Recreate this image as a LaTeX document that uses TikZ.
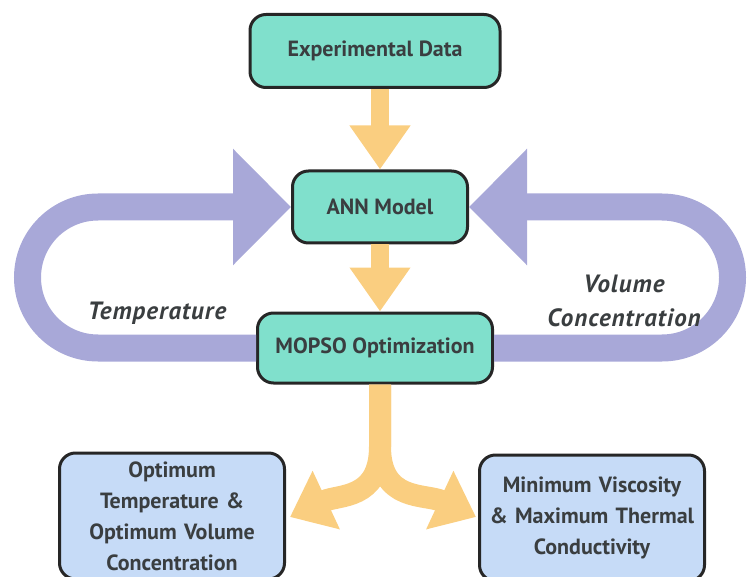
\documentclass[tikz,border=0pt]{standalone}
\usepackage{fontspec}
\setmainfont{PT Sans}
\newfontfamily\tagfont[LetterSpace=4]{PT Sans}
\usetikzlibrary{arrows.meta,calc}

\definecolor{boxteal}{RGB}{128,224,204}
\definecolor{boxblue}{RGB}{198,219,247}
\definecolor{loopblue}{RGB}{168,168,216}
\definecolor{flowgold}{RGB}{250,206,128}
\definecolor{textgray}{RGB}{58,62,64}

\begin{document}
\begin{tikzpicture}[x=1pt,y=1pt,
    block/.style={draw=black!85,line width=3pt,rounded corners=16pt,fill=boxteal,text=textgray,
      font=\fontsize{22}{31}\selectfont\bfseries,align=center},
    result/.style={block,fill=boxblue,text width=221pt,inner sep=2pt,minimum height=126pt},
    flow/.style={draw=flowgold,line width=18pt,-{Triangle[width=58pt,length=44pt]}},
    feedback/.style={draw=loopblue,line width=27pt,-{Triangle[width=113pt,length=58pt]}},
    tag/.style={text=textgray,font=\tagfont\fontsize{25}{34}\selectfont\bfseries\itshape}
    ]
    \useasboundingbox (0,0) rectangle (749,-577);
    \clip (0,0) rectangle (749,-577);

    \node[block,minimum width=250pt,minimum height=73pt] (exp) at (375,-51) {Experimental Data};
    \node[block,minimum width=175pt,minimum height=72pt] (ann) at (380,-207) {ANN Model};
    \node[block,minimum width=235pt,minimum height=70pt] (mopso) at (375,-348) {MOPSO Optimization};
    \node[result] (optimum) at (172,-516) {Optimum\\Temperature \&\\Optimum Volume\\Concentration};
    \node[result] (extremes) at (592,-518) {Minimum Viscosity\\\& Maximum Thermal\\Conductivity};

    % flow down the middle
    \draw[flow] (exp.south -| ann.center) -- (ann.north);
    \draw[flow] (ann.south) -- (mopso.north -| ann.center);

    % split towards the two results
    \coordinate (fork) at ($(mopso.south -| ann.center)+(0,-62)$);
    \coordinate (leftend) at (290,-517);
    \coordinate (rightend) at (476,-517);
    \draw[flow,line width=22pt,-{Triangle[width=62pt,length=40pt]}] (mopso.south -| ann.center) -- (fork) to[out=-90,in=25,looseness=1.2] (leftend);
    \draw[flow,line width=22pt,-{Triangle[width=62pt,length=40pt]}] (mopso.south -| ann.center) -- (fork) to[out=-90,in=155,looseness=1.2] (rightend);

    % feedback loops
    \draw[feedback] (mopso.west) -- (98,-348) arc[start angle=270,end angle=90,radius=70.5] -- (ann.west);
    \draw[feedback] (mopso.east) -- (662,-348) arc[start angle=-90,end angle=90,radius=70.5] -- (ann.east);

    \node[tag] (temp) at (157,-313) {Temperature};
    \node[tag,align=center] (volconc) at (624,-301) {Volume\\Concentration};
\end{tikzpicture}
\end{document}
